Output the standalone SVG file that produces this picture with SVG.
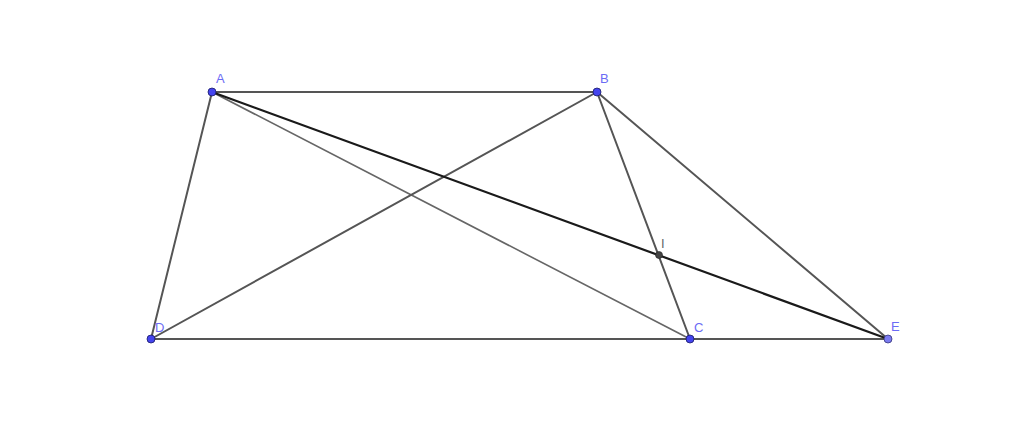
<svg xmlns="http://www.w3.org/2000/svg" width="1024" height="427" viewBox="0 0 1024 427">
<style>
.seg{stroke:#555;stroke-width:2;fill:none;stroke-linecap:round}
.thin{stroke:#666;stroke-width:1.6}
.bold{stroke:#1a1a1a;stroke-width:2.2}
.pt{fill:#4444ee;stroke:#1a1a66;stroke-width:0.8}
.pt2{fill:#7b7bf0;stroke:#33337a;stroke-width:0.8}
.lbl{font-family:"Liberation Sans",Arial,sans-serif;font-size:13px;fill:#6b6bf5}
.lblI{font-family:"Liberation Sans",Arial,sans-serif;font-size:13px;fill:#666}
</style>
<rect width="1024" height="427" fill="#fff"/>
<g id="connectors">
<line class="seg" x1="212" y1="92" x2="597" y2="92"/>
<line class="seg" x1="212" y1="92" x2="151" y2="339"/>
<line class="seg" x1="151" y1="339" x2="888" y2="339"/>
<line class="seg thin" x1="212" y1="92" x2="690" y2="339"/>
<line class="seg" x1="597" y1="92" x2="151" y2="339"/>
<line class="seg" x1="597" y1="92" x2="690" y2="339"/>
<line class="seg" x1="597" y1="92" x2="888" y2="339"/>
<line class="seg bold" x1="212" y1="92" x2="888" y2="339"/>
</g>
<g id="A"><circle class="pt" cx="212" cy="92" r="4"/><text class="lbl" x="216" y="83">A</text></g>
<g id="B"><circle class="pt" cx="597" cy="92" r="4"/><text class="lbl" x="600" y="83">B</text></g>
<g id="C"><circle class="pt" cx="690" cy="339" r="4"/><text class="lbl" x="694" y="332">C</text></g>
<g id="D"><circle class="pt" cx="151" cy="339" r="4"/><text class="lbl" x="155" y="332">D</text></g>
<g id="E"><circle class="pt2" cx="888" cy="339" r="4"/><text class="lbl" x="891" y="331">E</text></g>
<g id="I"><circle cx="659" cy="255" r="3.5" fill="#444" stroke="#222" stroke-width="0.6"/><text class="lblI" x="661" y="248">I</text></g>
</svg>
